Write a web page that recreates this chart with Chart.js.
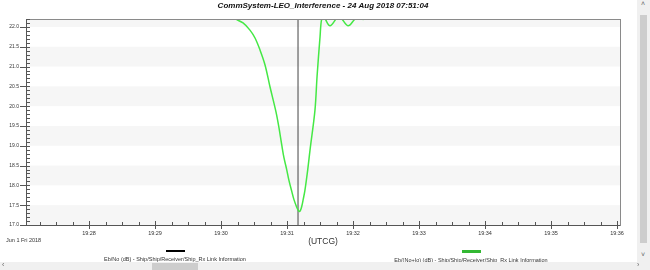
<!DOCTYPE html>
<html>
<head>
<meta charset="utf-8">
<script src="https://cdn.jsdelivr.net/npm/chart.js@4.4.1/dist/chart.umd.min.js"></script>
<style>
    html, body { margin: 0; padding: 0; background: #fff; }
    body { width: 650px; height: 270px; position: relative; overflow: hidden; font-family: 'Liberation Sans', Arial, sans-serif; }
    #wrap { position: absolute; left: 0; top: 0; width: 637px; height: 262px; }
    .txt { position: absolute; color: #333; white-space: nowrap; }
    .legend-item { position: absolute; top: 250px; width: 200px; text-align: center; font-size: 5.5px; color: #333; }
    .swatch { margin: 0 auto 4px auto; width: 19px; }
    #vbar { position: absolute; left: 637px; top: 0; width: 13px; height: 262px; background: #f0f0f0; }
    #vthumb { position: absolute; left: 3px; top: 15px; width: 7px; height: 228px; background: #cdcdcd; }
    #hbar { position: absolute; left: 0; top: 262px; width: 650px; height: 8px; background: #f0f0f0; }
    #hthumb { position: absolute; left: 152px; top: 1px; width: 46px; height: 7px; background: #cdcdcd; }
    .arrow { position: absolute; font-size: 7px; color: #666; }
</style>
</head>
<body>
<div id="wrap"><canvas id="chart"></canvas></div>
<div class="txt" style="left:6px; top:237px; font-size:5.5px;">Jun 1 Fri 2018</div>
<div id="legend"></div>
<div id="vbar"><div id="vthumb"></div>
    <span class="arrow" style="left:4px; top:0px;">&#708;</span>
    <span class="arrow" style="left:4px; top:251px;">&#709;</span>
</div>
<div id="hbar"><div id="hthumb"></div>
    <span class="arrow" style="left:2px; top:-1px;">&lsaquo;</span>
    <span class="arrow" style="left:637px; top:-1px;">&rsaquo;</span>
</div>
<script>
// Time axis in seconds after 19:27:00 UTCG
const xMin = 2.7;
const xMax = 542.7;
const xTickValues = [60, 120, 180, 240, 300, 360, 420, 480, 540];
const xTickLabels = ['19:28', '19:29', '19:30', '19:31', '19:32', '19:33', '19:34', '19:35', '19:36'];

const yMin = 17.0;
const yMax = 22.2;
const yTickValues = [17.0, 17.5, 18.0, 18.5, 19.0, 19.5, 20.0, 20.5, 21.0, 21.5, 22.0];

// Eb/(No+Io) (dB)
const timeSec = [170, 179, 186, 193.6, 200, 206.3, 210.9, 215.4, 220, 224.5, 230, 232.7, 235.2, 237.2, 239.7, 241.8,
    244.2, 246.3, 248.8, 250.0, 251.2, 252.2, 253.3, 254.8, 256.3, 258.8, 260.9, 265.4, 267.3, 270, 271.5,
    273.6, 279.1, 287.2, 295.4, 301.8, 304.5, 309.1, 313.6, 324.5];
const ebNoIo = [22.45, 22.38, 22.28, 22.19, 22.10, 21.92, 21.72, 21.42, 21.04, 20.49, 19.85, 19.45, 19.02, 18.70, 18.40, 18.12,
    17.86, 17.64, 17.45, 17.38, 17.34, 17.37, 17.46, 17.66, 17.88, 18.39, 18.89, 19.90, 20.75, 21.75, 22.20,
    22.24, 22.03, 22.26, 22.03, 22.20, 22.24, 22.19, 22.24, 22.40];

// Eb/No stays above the visible range
const ebNo = [];

// Time cursor
const cursorTime = 250;

const seriesLabels = [
    'Eb/No (dB) - Ship/Ship/Receiver/Ship_Rx Link Information',
    'Eb/(No+Io) (dB) - Ship/Ship/Receiver/Ship_Rx Link Information'
];
const seriesColors = ['#000000', '#45e845'];
const swatchColors = ['#000000', '#33b833'];

// Background bands, axis ticks and frame
const decorPlugin = {
    id: 'decor',
    beforeDatasetsDraw(chart) {
        const { ctx, chartArea: a, scales: { y } } = chart;
        ctx.save();
        ctx.fillStyle = '#f6f6f6';
        for (let v = yMin; v < yMax; v += 1.0) {
            const top = y.getPixelForValue(Math.min(v + 0.5, yMax));
            const bot = y.getPixelForValue(v);
            ctx.fillRect(a.left, top, a.right - a.left, bot - top);
        }
        ctx.restore();
    },
    afterDraw(chart) {
        const { ctx, chartArea: a, scales: { x, y } } = chart;
        ctx.save();
        ctx.strokeStyle = '#8a8a8a';
        ctx.lineWidth = 1;
        ctx.strokeRect(Math.round(a.left) + 0.5, Math.round(a.top) + 0.5, Math.round(a.right - a.left), Math.round(a.bottom - a.top));
        ctx.strokeStyle = '#555';
        ctx.beginPath();
        ctx.moveTo(Math.round(a.left) + 0.5, a.top);
        ctx.lineTo(Math.round(a.left) + 0.5, a.bottom);
        ctx.moveTo(a.left, Math.round(a.bottom) + 0.5);
        ctx.lineTo(a.right, Math.round(a.bottom) + 0.5);
        // y ticks
        for (let i = 0; i <= 52; i++) {
            const v = yMin + i * 0.1;
            const py = Math.round(y.getPixelForValue(v)) + 0.5;
            const major = i % 5 === 0;
            ctx.moveTo(a.left - (major ? 6 : 0), py);
            ctx.lineTo(a.left + 4, py);
        }
        // x ticks
        for (let t = 15; t <= xMax; t += 15) {
            if (t < xMin) continue;
            const px = Math.round(x.getPixelForValue(t)) + 0.5;
            const major = t % 60 === 0;
            ctx.moveTo(px, a.bottom - (major ? 4 : 3));
            ctx.lineTo(px, a.bottom + (major ? 4 : 0));
        }
        ctx.stroke();
        ctx.restore();
    }
};

const ctx = document.getElementById('chart').getContext('2d');
const chart = new Chart(ctx, {
    type: 'line',
    data: {
        datasets: [
            {
                label: seriesLabels[0],
                data: ebNo,
                borderColor: seriesColors[0],
                borderWidth: 1.5,
                pointRadius: 0
            },
            {
                label: seriesLabels[1],
                data: timeSec.map((t, i) => ({ x: t, y: ebNoIo[i] })),
                borderColor: seriesColors[1],
                borderWidth: 1.5,
                pointRadius: 0,
                tension: 0.35
            },
            {
                label: 'cursor',
                data: [{ x: cursorTime, y: yMin }, { x: cursorTime, y: yMax }],
                borderColor: '#444',
                borderWidth: 1,
                pointRadius: 0
            }
        ]
    },
    options: {
        responsive: true,
        maintainAspectRatio: false,
        animation: false,
        layout: { padding: { left: 0, right: 17, top: 0, bottom: 0 } },
        plugins: {
            legend: { display: false },
            tooltip: { enabled: false },
            title: {
                display: true,
                fullSize: false,
                text: 'CommSystem-LEO_Interference - 24 Aug 2018 07:51:04',
                color: '#111',
                font: { family: "'Liberation Sans', Arial, sans-serif", size: 8, style: 'italic', weight: 'bold' },
                padding: { top: 1, bottom: 8.4 }
            }
        },
        scales: {
            x: {
                type: 'linear',
                min: xMin,
                max: xMax,
                grid: { display: false, drawTicks: false },
                border: { display: false },
                afterBuildTicks: (scale) => { scale.ticks = xTickValues.map(v => ({ value: v })); },
                afterFit: (scale) => { scale.height = 37; },
                ticks: {
                    autoSkip: false,
                    maxRotation: 0,
                    padding: 5,
                    color: '#333',
                    font: { family: "'Liberation Sans', Arial, sans-serif", size: 5.5 },
                    callback: (v) => xTickLabels[xTickValues.indexOf(v)]
                },
                title: {
                    display: true,
                    text: '(UTCG)',
                    color: '#333',
                    font: { family: "'Liberation Sans', Arial, sans-serif", size: 8.5 },
                    padding: { top: 0, bottom: 15 }
                }
            },
            y: {
                min: yMin,
                max: yMax,
                grid: { display: false, drawTicks: false },
                border: { display: false },
                afterBuildTicks: (scale) => { scale.ticks = yTickValues.map(v => ({ value: v })); },
                afterFit: (scale) => { scale.width = 26; },
                ticks: {
                    padding: 7,
                    color: '#333',
                    font: { family: "'Liberation Sans', Arial, sans-serif", size: 5 },
                    callback: (v) => v.toFixed(1)
                }
            }
        }
    },
    plugins: [decorPlugin]
});

// Legend below the axis
const legendEl = document.getElementById('legend');
const legendCenters = [175, 471];
seriesLabels.forEach((label, i) => {
    const item = document.createElement('div');
    item.className = 'legend-item';
    item.style.left = (legendCenters[i] - 100) + 'px';
    item.innerHTML = `<div class="swatch" style="height:${i === 0 ? 2 : 3}px; background:${swatchColors[i]};"></div>${label}`;
    legendEl.appendChild(item);
});
</script>
</body>
</html>
